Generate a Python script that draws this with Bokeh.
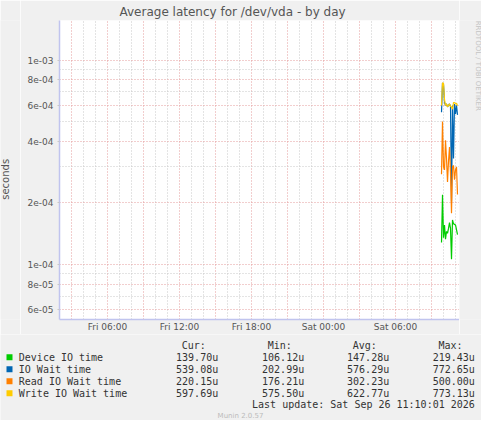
from bokeh.plotting import figure
from bokeh.layouts import column, row
from bokeh.models import FixedTicker, Range1d
from bokeh.core.properties import value
from bokeh.embed import file_html
from bokeh.resources import INLINE

# ---------------- data ----------------
times = ["Sat 09:50", "Sat 09:55", "Sat 10:00", "Sat 10:05", "Sat 10:10", "Sat 10:15",
         "Sat 10:20", "Sat 10:25", "Sat 10:30", "Sat 10:35", "Sat 10:40", "Sat 10:45",
         "Sat 10:50", "Sat 10:55", "Sat 11:00", "Sat 11:05", "Sat 11:10"]

device_io_us = [128, 219, 135, 156, 133, 145, 142, 150, 160, 150, 106, 165, 158, 157, 156, 148, 139.7]
io_wait_us = [555, 772, 760, 620, 600, 610, 590, 600, 610, 595, 203, 600, 330, 610, 545, 600, 539]
read_wait_us = [276, 500, 300, 290, 405, 330, 253, 320, 375, 280, 178, 300, 305, 260, 290, 300, 220]
write_wait_us = [600, 773, 770, 640, 600, 610, 590, 600, 610, 595, 590, 575, 620, 620, 610, 615, 597.7]

series_names = ["Device IO time", "IO Wait time", "Read IO Wait time", "Write IO Wait time"]
series_colors = ["#00CC00", "#0066B3", "#FF8000", "#FFCC00"]
col_headers = ["Cur:", "Min:", "Avg:", "Max:"]
cur_vals = ["139.70u", "539.08u", "220.15u", "597.69u"]
min_vals = ["106.12u", "202.99u", "176.21u", "575.50u"]
avg_vals = ["147.28u", "576.29u", "302.23u", "622.77u"]
max_vals = ["219.43u", "772.65u", "500.00u", "773.13u"]

x_ticks = [6.0, 12.0, 18.0, 24.0, 30.0]
x_tick_labels = ["Fri 06:00", "Fri 12:00", "Fri 18:00", "Sat 00:00", "Sat 06:00"]
y_ticks = [6e-05, 8e-05, 1e-04, 2e-04, 4e-04, 6e-04, 8e-04, 1e-03]
y_tick_labels = ["6e-05", "8e-05", "1e-04", "2e-04", "4e-04", "6e-04", "8e-04", "1e-03"]
y_minor = [7e-05, 9e-05, 3e-04, 5e-04, 7e-04, 9e-04]

title_text = "Average latency for /dev/vda - by day"
y_label = "seconds"
side_text = "RRDTOOL / TOBI OETIKER"
last_update = "Last update: Sat Sep 26 11:10:01 2026"
footer_text = "Munin 2.0.57"


def to_hours(t):
    day, hm = t.split()
    h, m = hm.split(":")
    return (24 if day == "Sat" else 0) + int(h) + int(m) / 60.0


hours = [to_hours(t) for t in times]
series = [device_io_us, io_wait_us, read_wait_us, write_wait_us]

BG = "#F0F0F0"
MAJ = "#E49C9C"
MIN = "#C8C8C8"
AX = "#C0C4EE"
TXT = "#555555"
LTXT = "#333333"

W, H = 481, 420
LEFT_W, RIGHT_W, TOP_H = 20, 22, 334
STRIP_FRAME_H = 320   # side strips get their bottom aligned with the chart frame


def strip(width, height, y_top, y_bottom, x0):
    """A plain panel whose data units are pixels of the whole canvas."""
    f = figure(width=width, height=height, output_backend="svg", toolbar_location=None,
               x_range=Range1d(x0, x0 + width), y_range=Range1d(y_bottom, y_top),
               x_axis_location=None, y_axis_location=None,
               min_border=0, min_border_left=0, min_border_right=0,
               min_border_top=0, min_border_bottom=0)
    f.grid.visible = False
    f.outline_line_color = None
    f.border_fill_color = BG
    f.background_fill_color = BG
    return f


# ---------------- main chart ----------------
p = figure(width=W - LEFT_W - RIGHT_W, height=TOP_H, output_backend="svg",
           toolbar_location=None, y_axis_type="log",
           x_range=Range1d(2.0, 35.333), y_range=Range1d(5.375e-05, 1.562e-03),
           min_border_left=59 - LEFT_W, min_border_right=0, min_border_top=20,
           min_border_bottom=14)
p.border_fill_color = BG
p.background_fill_color = "#FFFFFF"
p.outline_line_color = None

p.title.text = title_text
p.title.align = "left"
p.title.offset = 60
p.title.standoff = 3
p.title.text_font = "DejaVu Sans"
p.title.text_font_size = "12px"
p.title.text_font_style = "normal"
p.title.text_color = TXT

p.xgrid[0].ticker = FixedTicker(ticks=list(range(3, 36, 3)),
                                minor_ticks=[h for h in range(3, 36) if h % 3])
p.ygrid[0].ticker = FixedTicker(ticks=y_ticks, minor_ticks=y_minor)
for g in (p.xgrid[0], p.ygrid[0]):
    g.grid_line_color = MAJ
    g.grid_line_dash = "1 2"
    g.grid_line_width = 1
    g.minor_grid_line_color = MIN
    g.minor_grid_line_dash = "1 2"
    g.minor_grid_line_width = 1

p.xaxis.ticker = FixedTicker(ticks=x_ticks)
p.xaxis.major_label_overrides = dict(zip(x_ticks, x_tick_labels))
p.yaxis.ticker = FixedTicker(ticks=y_ticks)
p.yaxis.major_label_overrides = dict(zip(y_ticks, y_tick_labels))
for ax in (p.xaxis[0], p.yaxis[0]):
    ax.axis_line_color = AX
    ax.axis_line_width = 1.5
    ax.major_tick_line_color = MIN
    ax.major_tick_in = 0
    ax.minor_tick_line_color = None
    ax.major_label_text_font = "DejaVu Sans"
    ax.major_label_text_font_size = "9px"
    ax.major_label_text_color = TXT
p.xaxis.major_tick_out = 0
p.xaxis.major_label_standoff = 2
p.yaxis.major_tick_out = 2
p.yaxis.major_label_standoff = 4

for vals, col in zip(series, series_colors):
    p.line(x=hours, y=[v * 1e-6 for v in vals], line_color=col, line_width=1.2)

# ---------------- side strips ----------------
left = strip(LEFT_W, TOP_H, 0, STRIP_FRAME_H, 0)
left.text(x=[5], y=[170], text=[y_label], angle=1.5708, text_align="center",
          text_baseline="middle", text_font=value("DejaVu Sans"), text_font_size="10px",
          text_color=TXT)

right = strip(RIGHT_W, TOP_H, 0, STRIP_FRAME_H, W - RIGHT_W)
right.text(x=[477.5], y=[48.5], text=[side_text], angle=-1.5708, text_align="center",
           text_baseline="middle", text_font=value("DejaVu Sans"), text_font_size="7px",
           text_color="#C4C4C4")

# ---------------- legend panel ----------------
q = strip(W, H - TOP_H, TOP_H, H, 0)
mono = dict(text_font=value("DejaVu Sans Mono"), text_font_size="10px",
            text_color=LTXT, text_baseline="middle")

col_right = [217.7, 303.7, 388.7, 474.3]
head_right = [205.3, 291.3, 376.3, 462.0]
row_y = [356.7, 368.7, 380.7, 392.7]

q.text(x=head_right, y=[345.3] * 4, text=col_headers, text_align="right", **mono)
q.quad(left=[6] * 4, right=[12] * 4, top=[y - 3 for y in row_y], bottom=[y + 3 for y in row_y],
       fill_color=series_colors, line_color=None)
q.text(x=[18.3] * 4, y=row_y, text=series_names, text_align="left", **mono)
for cx, colvals in zip(col_right, [cur_vals, min_vals, avg_vals, max_vals]):
    q.text(x=[cx] * 4, y=row_y, text=colvals, text_align="right", **mono)
q.text(x=[474.3], y=[404.3], text=[last_update], text_align="right", **mono)
q.text(x=[240], y=[415.5], text=[footer_text], text_align="center", text_baseline="middle",
       text_font=value("DejaVu Sans"), text_font_size="7px", text_color="#BBBBBB")

layout = column(row(left, p, right, spacing=0), q, spacing=0)
open("out.html", "w").write(file_html(layout, INLINE))
